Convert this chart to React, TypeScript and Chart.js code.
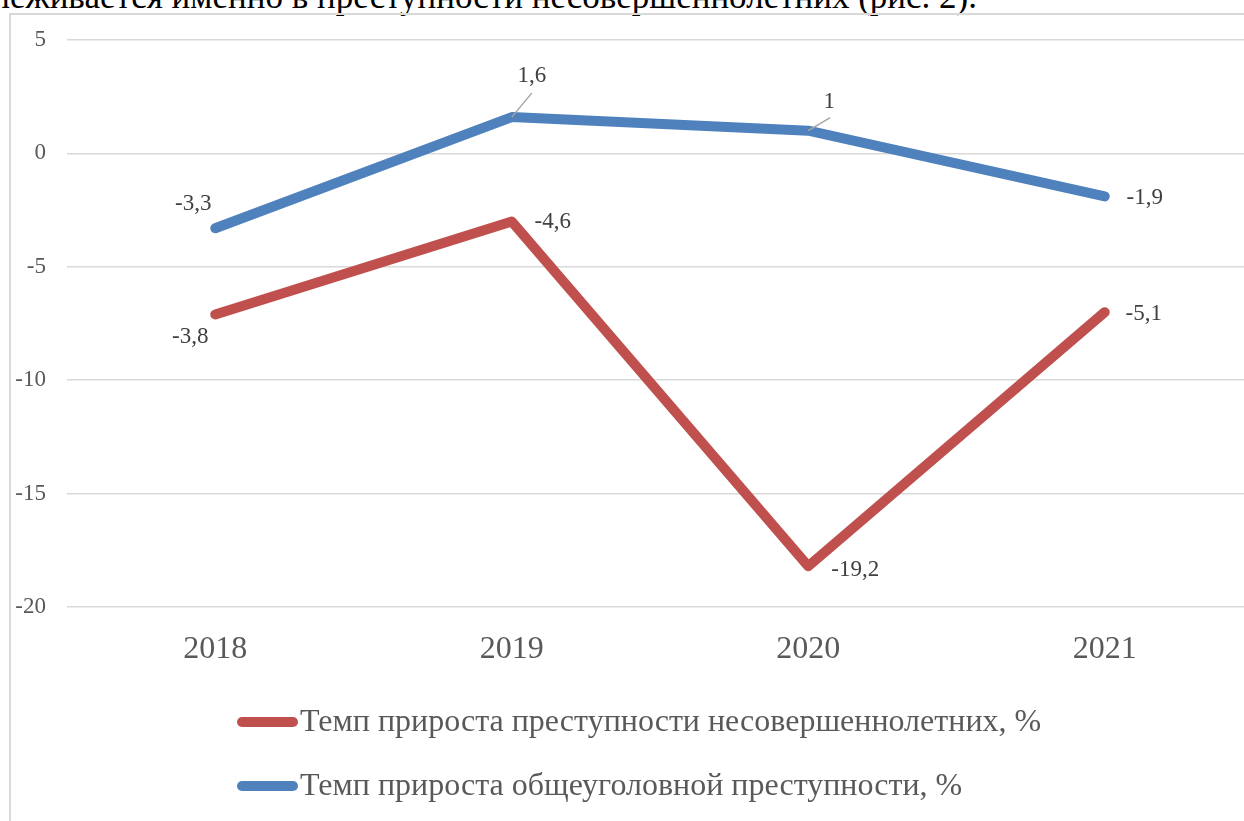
import React, { useEffect, useRef } from "react";
import { Chart, registerables } from "chart.js";

Chart.register(...registerables);

// ---- data ----
const categories = ["2018", "2019", "2020", "2021"];
const juvenileName = "Темп прироста преступности несовершеннолетних, %";
const juvenileValues = [-7.1, -3.0, -18.2, -7.0];
const juvenileLabels = ["-3,8", "-4,6", "-19,2", "-5,1"];
const generalName = "Темп прироста общеуголовной преступности, %";
const generalValues = [-3.3, 1.6, 1.0, -1.9];
const generalLabels = ["-3,3", "1,6", "1", "-1,9"];
const yMin = -20;
const yMax = 5;
const yStep = 5;
const captionText = "прослеживается именно в преступности несовершеннолетних (рис. 2).";

// ---- label layout (offsets from point, px) ----
const juvenileLabelOffsets = [
  [-25, 23],
  [41, 1],
  [47, 4],
  [39, 2],
];
const generalLabelOffsets = [
  [-22, -24],
  [20, -41],
  [21, -29],
  [40, 1],
];
// leader line end offsets (null = no leader)
const generalLeaders: (number[] | null)[] = [null, [20, -24], [22, -13], null];
const juvenileLeaders: (number[] | null)[] = [null, null, null, null];

const RED = "#C0504D";
const BLUE = "#4F81BD";
const SERIF = '"Liberation Serif", Tinos, "Times New Roman", serif';

const labelsPlugin = {
  id: "pointLabels",
  afterDatasetsDraw(chart: any) {
    const ctx = chart.ctx;
    const sets = [
      { labels: juvenileLabels, offsets: juvenileLabelOffsets, leaders: juvenileLeaders },
      { labels: generalLabels, offsets: generalLabelOffsets, leaders: generalLeaders },
    ];
    ctx.save();
    sets.forEach((s, di) => {
      const meta = chart.getDatasetMeta(di);
      meta.data.forEach((pt: any, i: number) => {
        const lead = s.leaders[i];
        if (lead) {
          ctx.strokeStyle = "#A6A6A6";
          ctx.lineWidth = 1.5;
          ctx.beginPath();
          ctx.moveTo(pt.x, pt.y);
          ctx.lineTo(pt.x + lead[0], pt.y + lead[1]);
          ctx.stroke();
        }
        ctx.fillStyle = "#404040";
        ctx.font = `23px ${SERIF}`;
        ctx.textAlign = "center";
        ctx.textBaseline = "middle";
        ctx.fillText(s.labels[i], pt.x + s.offsets[i][0], pt.y + s.offsets[i][1]);
      });
    });
    ctx.restore();
  },
};

const legendPlugin = {
  id: "customLegend",
  afterDraw(chart: any) {
    const ctx = chart.ctx;
    const area = chart.chartArea;
    const rows = [area.bottom + 115, area.bottom + 179];
    ctx.save();
    chart.data.datasets.forEach((ds: any, i: number) => {
      const y = rows[i];
      ctx.strokeStyle = ds.borderColor;
      ctx.lineWidth = 10;
      ctx.lineCap = "round";
      ctx.beginPath();
      ctx.moveTo(242, y);
      ctx.lineTo(293, y);
      ctx.stroke();
      ctx.fillStyle = "#595959";
      ctx.font = `32px ${SERIF}`;
      ctx.textAlign = "left";
      ctx.textBaseline = "middle";
      ctx.fillText(ds.label, 300, y + 1);
    });
    ctx.restore();
  },
};

export default function App() {
  const ref = useRef<HTMLCanvasElement | null>(null);

  useEffect(() => {
    let chart: any = null;
    let cancelled = false;
    const build = () => {
      if (cancelled || !ref.current) return;
      chart = new Chart(ref.current, {
        type: "line",
        data: {
          labels: categories,
          datasets: [
            {
              label: juvenileName,
              data: juvenileValues,
              borderColor: RED,
              backgroundColor: RED,
              borderWidth: 10,
              borderCapStyle: "round",
              borderJoinStyle: "round",
              pointRadius: 0,
              pointHoverRadius: 0,
              tension: 0,
              fill: false,
            },
            {
              label: generalName,
              data: generalValues,
              borderColor: BLUE,
              backgroundColor: BLUE,
              borderWidth: 10,
              borderCapStyle: "round",
              borderJoinStyle: "round",
              pointRadius: 0,
              pointHoverRadius: 0,
              tension: 0,
              fill: false,
            },
          ],
        },
        options: {
          responsive: false,
          animation: false,
          devicePixelRatio: 1,
          layout: { padding: { left: 0, right: 47, top: 40, bottom: 0 } },
          plugins: {
            legend: { display: false },
            tooltip: { enabled: false },
            title: { display: false },
          },
          scales: {
            x: {
              type: "category",
              offset: true,
              grid: { display: false, drawTicks: false },
              border: { display: false },
              ticks: {
                color: "#595959",
                font: { family: SERIF, size: 32 },
                padding: 23,
                maxRotation: 0,
              },
              afterFit: (s: any) => {
                s.height = 214;
              },
            },
            y: {
              min: yMin,
              max: yMax,
              grid: { color: "#D9D9D9", lineWidth: 1.5, drawTicks: false },
              border: { display: false },
              ticks: {
                stepSize: yStep,
                color: "#595959",
                font: { family: SERIF, size: 23 },
                padding: 21,
                callback: (v: any) => String(v),
              },
              afterFit: (s: any) => {
                s.width = 67;
              },
            },
          },
        },
        plugins: [labelsPlugin, legendPlugin],
      } as any);
    };
    const fonts: any = (document as any).fonts;
    if (fonts && fonts.load) {
      Promise.all([
        fonts.load(`23px "Liberation Serif"`, "0123456789-,"),
        fonts.load(`32px "Liberation Serif"`, "Темп прироста 2018"),
      ])
        .catch(() => null)
        .then(build);
    } else {
      build();
    }
    return () => {
      cancelled = true;
      if (chart) chart.destroy();
    };
  }, []);

  return (
    <div
      style={{
        position: "fixed",
        left: 0,
        top: 0,
        width: 1244,
        height: 821,
        overflow: "hidden",
        background: "#fff",
        fontFamily: SERIF,
      }}
    >
      <div
        style={{
          position: "absolute",
          right: 267,
          top: -21,
          whiteSpace: "nowrap",
          fontFamily: SERIF,
          fontSize: 35,
          lineHeight: "35px",
          color: "#000",
        }}
      >
        {captionText}
      </div>
      <div
        style={{
          position: "absolute",
          left: 9,
          top: 13,
          width: 1400,
          height: 1000,
          borderLeft: "2px solid #D9D9D9",
          borderTop: "2px solid #D9D9D9",
          boxSizing: "border-box",
        }}
      />
      <canvas
        ref={ref}
        width={1300}
        height={821}
        style={{ position: "absolute", left: 0, top: 0, width: 1300, height: 821 }}
      />
    </div>
  );
}
